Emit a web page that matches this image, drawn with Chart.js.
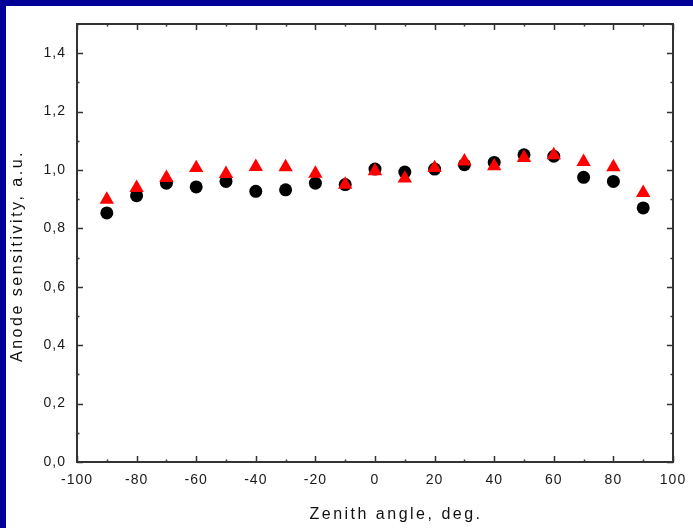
<!DOCTYPE html>
<html>
<head>
<meta charset="utf-8">
<script src="https://cdn.jsdelivr.net/npm/chart.js@4/dist/chart.umd.min.js"></script>
<style>
  html, body { margin: 0; padding: 0; background: #fff; }
  #wrap { position: relative; width: 693px; height: 528px; overflow: hidden; }
  #wrap:before { content: ""; position: absolute; left: 0; top: 0; width: 693px; height: 6px; background: #000099; }
  #wrap:after { content: ""; position: absolute; left: 0; top: 0; width: 6px; height: 528px; background: #000099; }
  canvas { display: block; }
</style>
</head>
<body>
<div id="wrap"><canvas id="SensChart" width="693" height="528"></canvas></div>
<script>
var angles = [-90, -80, -70, -60, -50, -40, -30, -20, -10, 0, 10, 20, 30, 40, 50, 60, 70, 80, 90];
var circleValues = [0.853, 0.912, 0.955, 0.942, 0.961, 0.927, 0.932, 0.955, 0.950, 1.003, 0.993, 1.003, 1.018, 1.026, 1.052, 1.047, 0.975, 0.961, 0.870];
var triangleValues = [0.899, 0.939, 0.973, 1.007, 0.987, 1.011, 1.010, 0.988, 0.950, 0.996, 0.971, 1.007, 1.030, 1.013, 1.042, 1.051, 1.028, 1.010, 0.922];
var xTitle = 'Zenith angle, deg.';
var yTitle = 'Anode sensitivity, a.u.';

function toPoints(vals) {
    var pts = [];
    for (var i = 0; i < angles.length; i++) {
        pts.push({ x: angles[i], y: vals[i] });
    }
    return pts;
}

// wider letter spacing like the original bitmap font
var spacingPlugin = {
    id: 'spacing',
    beforeDraw: function (chart) {
        chart.ctx.letterSpacing = '1px';
    }
};

// frame box with inward ticks on all four sides, plus the axis titles
var framePlugin = {
    id: 'frame',
    afterDraw: function (chart) {
        var ctx = chart.ctx;
        var a = chart.chartArea;
        var xs = chart.scales.x, ys = chart.scales.y;
        ctx.save();
        ctx.strokeStyle = '#333';
        ctx.lineWidth = 2;
        ctx.strokeRect(a.left, a.top, a.right - a.left, a.bottom - a.top);
        ctx.lineWidth = 1.5;
        ctx.beginPath();
        for (var v = -100; v <= 100; v += 10) {
            var px = Math.round(xs.getPixelForValue(v)) + 0.5;
            var len = (v % 20 == 0) ? 6 : 2.5;
            ctx.moveTo(px, a.bottom); ctx.lineTo(px, a.bottom - len);
            ctx.moveTo(px, a.top); ctx.lineTo(px, a.top + len);
        }
        for (var k = 0; k <= 15; k++) {
            var py = Math.round(ys.getPixelForValue(k / 10)) + 0.5;
            var l2 = (k % 2 == 0) ? 6 : 2.5;
            ctx.moveTo(a.left, py); ctx.lineTo(a.left + l2, py);
            ctx.moveTo(a.right, py); ctx.lineTo(a.right - l2, py);
        }
        ctx.stroke();

        ctx.fillStyle = '#111';
        ctx.font = '16px "Liberation Sans", Arial';
        ctx.letterSpacing = '2.5px';
        ctx.textAlign = 'center';
        ctx.textBaseline = 'middle';
        ctx.fillText(xTitle, 396, 515);
        ctx.translate(18, 256);
        ctx.rotate(-Math.PI / 2);
        ctx.fillText(yTitle, 0, 0);
        ctx.restore();
    }
};

var ctx = document.getElementById('SensChart').getContext('2d');
window.SensChart = new Chart(ctx, {
    type: 'scatter',
    data: {
        datasets: [{
            data: toPoints(triangleValues),
            order: 0,
            pointStyle: 'triangle',
            pointRadius: 8.3,
            backgroundColor: '#ff0000',
            borderColor: '#ff0000',
            borderWidth: 0
        }, {
            data: toPoints(circleValues),
            order: 1,
            pointStyle: 'circle',
            pointRadius: 6.5,
            backgroundColor: '#000000',
            borderColor: '#000000',
            borderWidth: 0
        }]
    },
    options: {
        responsive: false,
        animation: false,
        layout: { padding: { left: 6, top: 24, right: 20, bottom: 0 } },
        plugins: { legend: { display: false }, tooltip: { enabled: false } },
        scales: {
            x: {
                type: 'linear',
                min: -100,
                max: 100,
                grid: { display: false, drawTicks: false },
                border: { display: false },
                ticks: {
                    stepSize: 20,
                    padding: 10,
                    color: '#1a1a1a',
                    font: { family: 'Liberation Sans, Arial', size: 14 },
                    maxRotation: 0
                },
                afterFit: function (scale) {
                    scale.height = 66;
                    scale.paddingLeft = 0;
                    scale.paddingRight = 0;
                }
            },
            y: {
                min: 0,
                max: 1.5,
                grid: { display: false, drawTicks: false },
                border: { display: false },
                ticks: {
                    stepSize: 0.2,
                    padding: 11,
                    color: '#1a1a1a',
                    font: { family: 'Liberation Sans, Arial', size: 14 },
                    callback: function (v) {
                        if (v > 1.41) return '';
                        return v.toFixed(1).replace('.', ',');
                    }
                },
                afterFit: function (scale) {
                    scale.width = 71;
                    scale.paddingTop = 0;
                    scale.paddingBottom = 0;
                }
            }
        }
    },
    plugins: [spacingPlugin, framePlugin]
});
</script>
</body>
</html>
